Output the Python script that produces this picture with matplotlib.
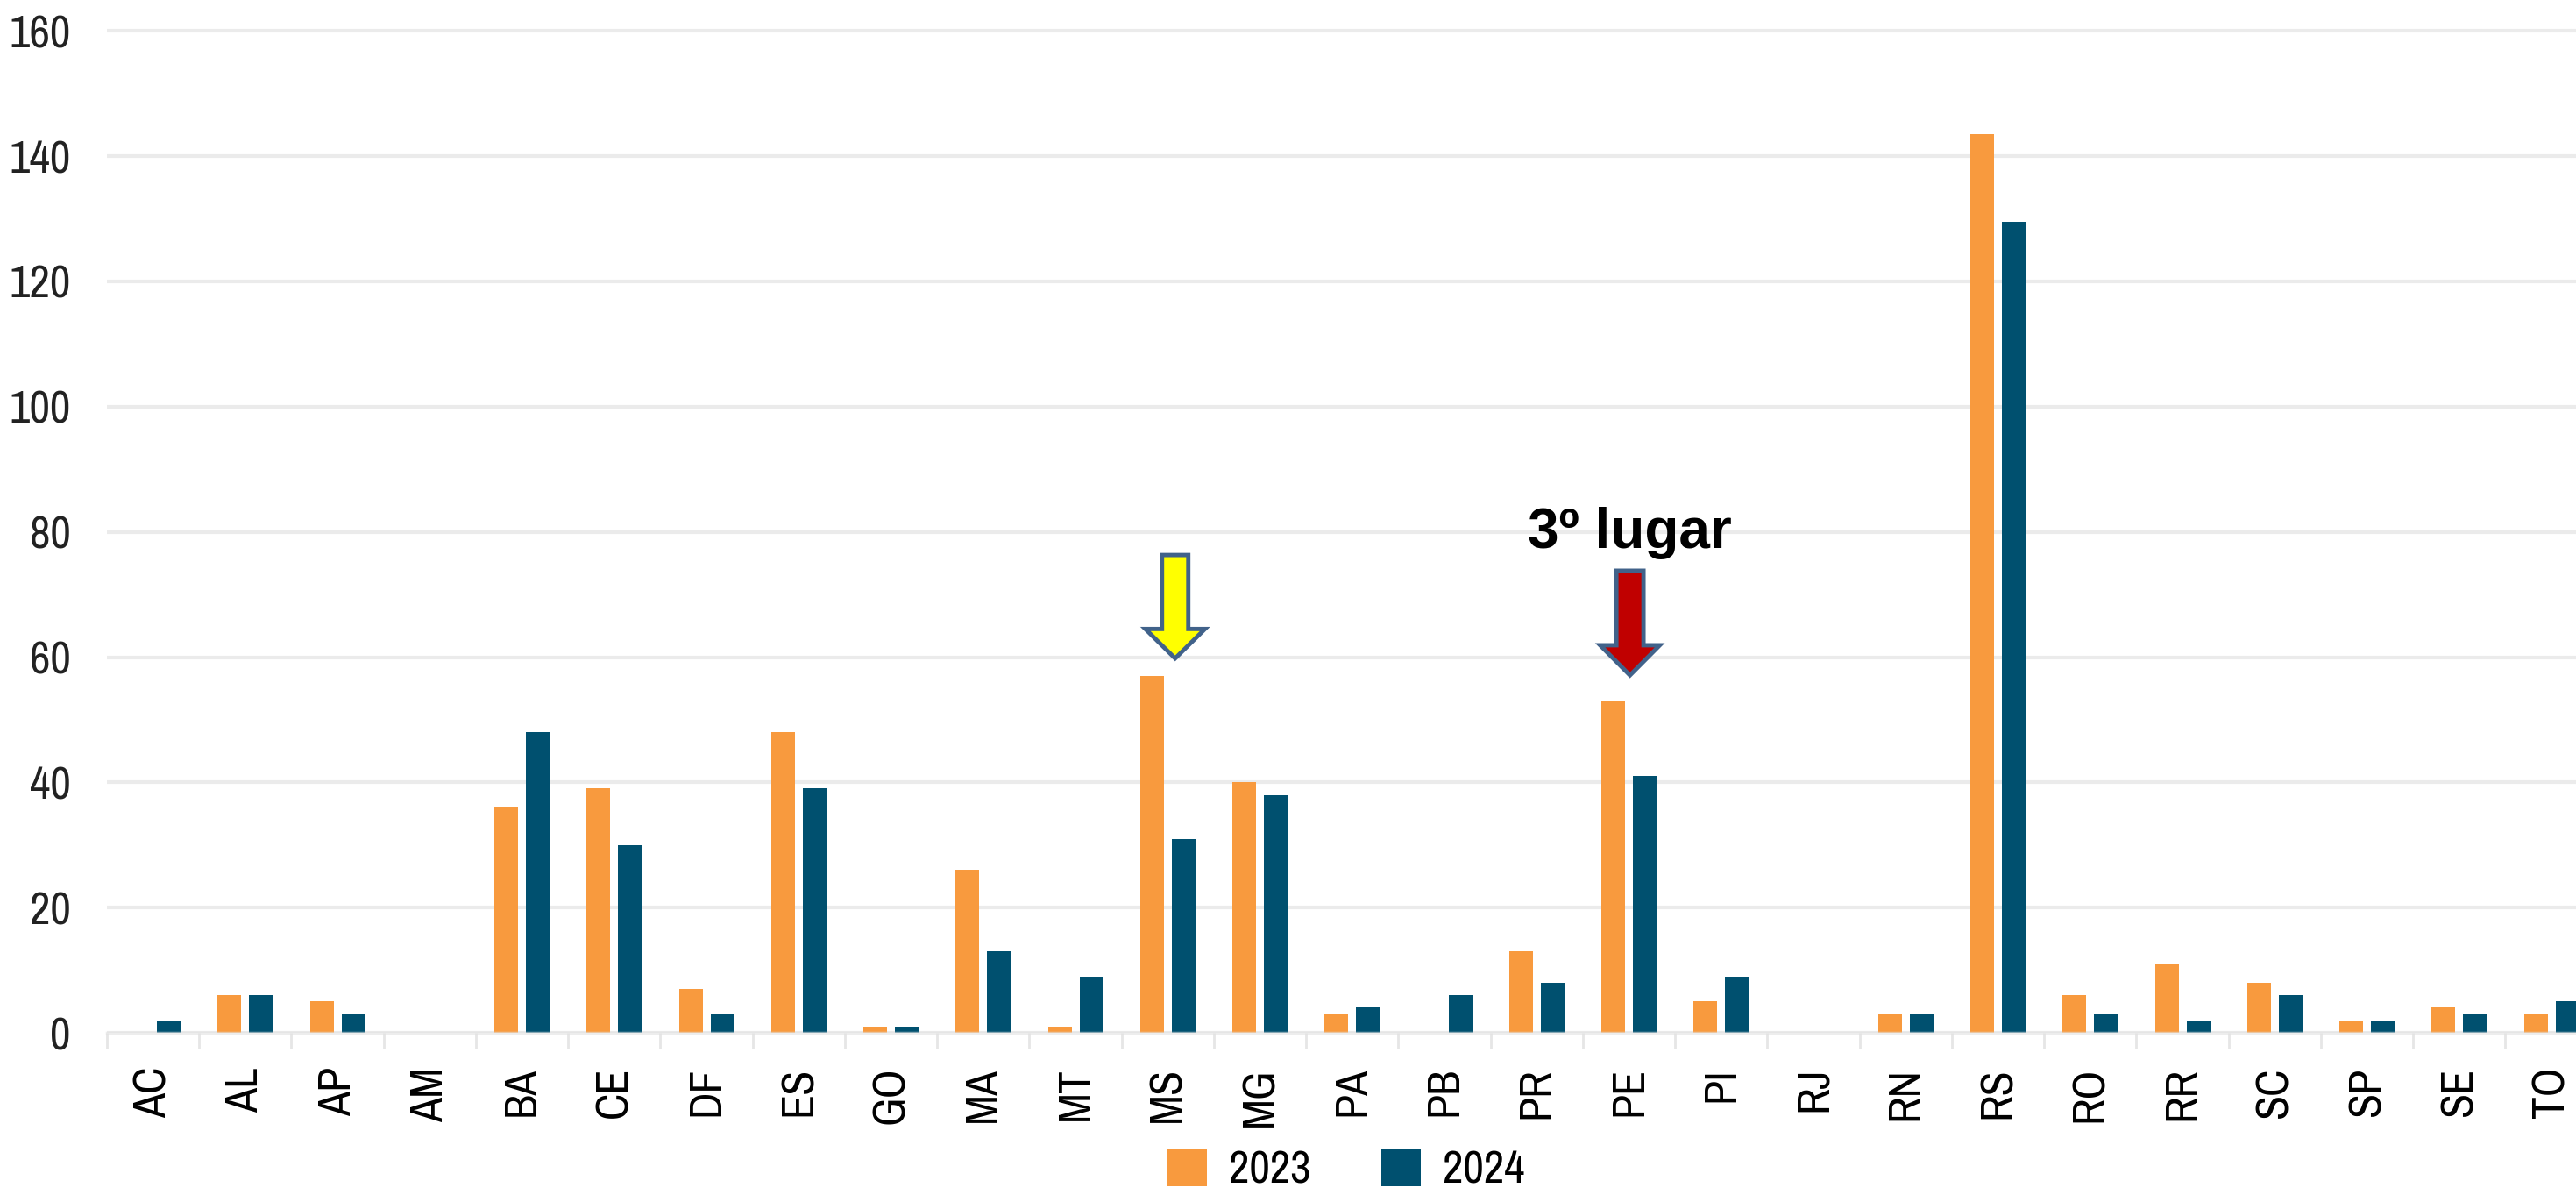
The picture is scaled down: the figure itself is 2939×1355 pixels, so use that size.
import matplotlib
matplotlib.use("Agg")
import matplotlib.pyplot as plt
import numpy as np
from matplotlib import font_manager
from matplotlib.font_manager import FontProperties
from matplotlib.patches import Polygon

# --------------------------------------------------
# data

states = ["AC", "AL", "AP", "AM", "BA", "CE", "DF", "ES", "GO", "MA", "MT",
          "MS", "MG", "PA", "PB", "PR", "PE", "PI", "RJ", "RN", "RS", "RO",
          "RR", "SC", "SP", "SE", "TO"]

v2023 = [0, 6, 5, 0, 36, 39, 7, 48, 1, 26, 1,
         57, 40, 3, 0, 13, 53, 5, 0, 3, 143.5, 6,
         11, 8, 2, 4, 3]

v2024 = [2, 6, 3, 0, 48, 30, 3, 39, 1, 13, 9,
         31, 38, 4, 6, 8, 41, 9, 0, 3, 129.5, 3,
         2, 6, 2, 3, 5]

series = ["2023", "2024"]
y_ticks = [0, 20, 40, 60, 80, 100, 120, 140, 160]

ORANGE = "#f89a3e"
BLUE = "#00506f"

# pick the narrowest upright sans face that is installed
PREFER = ["narrow", "extracondensed", "robotocondensed", "condensed"]
best, best_rank = None, 99
for f in font_manager.fontManager.ttflist:
    fn = f.fname.lower().replace("-", "").replace("_", "").replace(" ", "")
    if any(k in fn for k in ("bold", "italic", "oblique", "mono", "serif", "light",
                             "thin", "black", "medium", "semi", "extralight")):
        continue
    for r, key in enumerate(PREFER):
        if key in fn and r < best_rank:
            best, best_rank = f.fname, r
            break

if best:
    NARROW = FontProperties(fname=best)
    SIZE = 37
else:
    NARROW = FontProperties(family="DejaVu Sans")
    SIZE = 27

names = {f.name for f in font_manager.fontManager.ttflist}
BOLD = "Liberation Sans" if "Liberation Sans" in names else "DejaVu Sans"

# --------------------------------------------------
# figure

fig = plt.figure(figsize=(29.39, 13.55), dpi=100)
ax = fig.add_axes([0.0415, 0.1306, 0.9669, 0.8539])

x = np.arange(len(states))
w = 0.2565
off = 0.171

ax.bar(x - off, v2023, width=w, color=ORANGE, label=series[0], zorder=2)
ax.bar(x + off, v2024, width=w, color=BLUE, label=series[1], zorder=2)

ax.set_xlim(-0.5, len(states) - 0.5)
ax.set_ylim(0, 162)

for s in ax.spines.values():
    s.set_visible(False)

ax.set_yticks(y_ticks)
ax.set_yticklabels([str(t) for t in y_ticks], fontproperties=NARROW, fontsize=SIZE)
ax.yaxis.grid(True, color="#ebebeb", linewidth=3)
ax.set_axisbelow(True)
ax.axhline(0, color="#e2e2e2", linewidth=2.5, alpha=0.6, zorder=3, clip_on=False)

ax.set_xticks(x)
ax.set_xticklabels(states, rotation=90, va="top", ha="center",
                   fontproperties=NARROW, fontsize=SIZE)
ax.set_xticks(np.arange(-0.5, len(states), 1), minor=True)

ax.tick_params(axis="y", length=0, pad=30, labelcolor="#222222")
ax.tick_params(axis="x", which="major", length=0, pad=28, labelcolor="black")
ax.tick_params(axis="x", which="minor", length=13, width=2, color="#e6e6e6")

# --------------------------------------------------
# arrows and note


def down_arrow(xc, tip, base, top, shaft, head, color):
    pts = [
        (xc - shaft, top), (xc + shaft, top), (xc + shaft, base),
        (xc + head, base), (xc, tip), (xc - head, base), (xc - shaft, base),
    ]
    ax.add_patch(Polygon(pts, closed=True, facecolor=color, edgecolor="#41628a",
                         linewidth=3.5, joinstyle="miter", zorder=5, clip_on=False))


down_arrow(11.08, 59.8, 64.5, 76.3, 0.1425, 0.323, "#ffff00")
down_arrow(16.01, 57.1, 61.9, 73.8, 0.147, 0.323, "#c00000")

ax.text(16.01, 77.4, "3º lugar", ha="center", va="baseline", fontsize=46,
        fontweight="bold", fontfamily=BOLD, color="black", zorder=6)

# --------------------------------------------------
# legend

legend_font = NARROW.copy()
legend_font.set_size(SIZE)
fig.legend(loc="upper center", bbox_to_anchor=(0.5226, 0.052), ncol=2,
           frameon=False, borderpad=0, handlelength=0.875, handleheight=0.91,
           handletextpad=0.49, columnspacing=1.56, prop=legend_font)

fig.savefig("out.png", dpi=100)
